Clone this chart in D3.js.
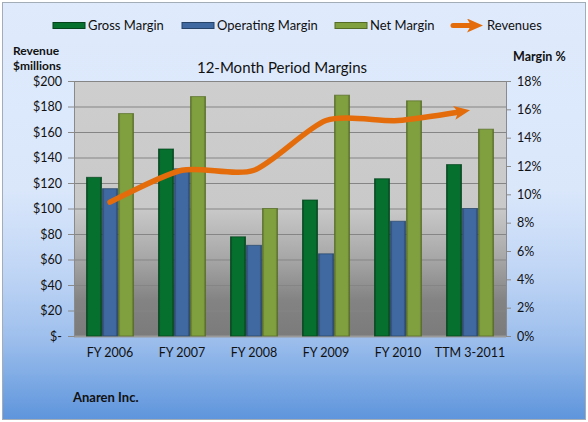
<!DOCTYPE html>
<html>
<head>
<meta charset="utf-8">
<script src="https://cdn.jsdelivr.net/npm/d3@7"></script>
<style>
  body { margin: 0; background: #fff; }
  svg { display: block; font-family: Lato, "Open Sans", sans-serif; }
</style>
</head>
<body>
<svg id="chart" width="588" height="422"></svg>
<script>
// data
var categories = ["FY 2006", "FY 2007", "FY 2008", "FY 2009", "FY 2010", "TTM 3-2011"];
var grossMargin = [11.2, 13.2, 7.0, 9.6, 11.1, 12.1];
var operatingMargin = [10.4, 11.8, 6.4, 5.8, 8.1, 9.0];
var netMargin = [15.7, 16.9, 9.0, 17.0, 16.6, 14.6];
var revenues = [105, 130, 130, 169, 169, 177];
var revenueTicks = [0, 20, 40, 60, 80, 100, 120, 140, 160, 180, 200];
var marginTicks = [0, 2, 4, 6, 8, 10, 12, 14, 16, 18];
var seriesNames = ["Gross Margin", "Operating Margin", "Net Margin"];
var seriesColors = ["#06702f", "#3f69a0", "#80a03f"];
var seriesEdges = ["#03421b", "#274468", "#556c27"];

var svg = d3.select("#chart");
var W = 588, H = 422;
var plot = {left: 74, right: 506, top: 81, bottom: 336};

var defs = svg.append("defs");

// outer background gradient
var bg = defs.append("linearGradient").attr("id", "bgGrad")
    .attr("x1", 0).attr("y1", 0).attr("x2", 0).attr("y2", 1);
[[0, "#dfeafc"], [0.45, "#dae7fb"], [0.65, "#bfd5f5"], [0.8, "#9fc0ed"], [1, "#5e95dc"]]
  .forEach(function(s) { bg.append("stop").attr("offset", s[0]).attr("stop-color", s[1]); });

// plot area gradient
var pg = defs.append("linearGradient").attr("id", "plotGrad")
    .attr("x1", 0).attr("y1", 0).attr("x2", 0).attr("y2", 1);
[[0, "#cecece"], [0.5, "#c9c9c9"], [0.7, "#a6a6a6"], [0.86, "#838383"], [1, "#7b7b7b"]]
  .forEach(function(s) { pg.append("stop").attr("offset", s[0]).attr("stop-color", s[1]); });

// bar bevel gradients
seriesColors.forEach(function(c, i) {
  var g = defs.append("linearGradient").attr("id", "bar" + i)
      .attr("x1", 0).attr("y1", 0).attr("x2", 1).attr("y2", 0);
  [[0, seriesEdges[i]], [0.14, c], [0.86, c], [1, seriesEdges[i]]]
    .forEach(function(s) { g.append("stop").attr("offset", s[0]).attr("stop-color", s[1]); });
});

defs.append("marker").attr("id", "arrow")
    .attr("viewBox", "0 0 16 14")
    .attr("refX", 16).attr("refY", 7)
    .attr("markerUnits", "userSpaceOnUse")
    .attr("markerWidth", 16).attr("markerHeight", 14)
    .attr("orient", "auto")
  .append("path")
    .attr("d", "M0,0 L16,7 L0,14 L4,7 Z")
    .attr("fill", "#e46c0a");

svg.append("rect").attr("x", 2.5).attr("y", 2.5).attr("width", W - 5).attr("height", H - 5)
    .attr("fill", "url(#bgGrad)").attr("stroke", "#a3adb8");

svg.append("rect")
    .attr("x", plot.left).attr("y", plot.top)
    .attr("width", plot.right - plot.left).attr("height", plot.bottom - plot.top)
    .attr("fill", "url(#plotGrad)");

var x0 = d3.scaleBand().domain(categories).range([plot.left, plot.right]).padding(0);
var x1 = d3.scaleBand().domain(seriesNames).range([0, x0.bandwidth()])
    .paddingInner(0).paddingOuter(0.75);
var yRev = d3.scaleLinear().domain([0, 200]).range([plot.bottom, plot.top]);
var yPct = d3.scaleLinear().domain([0, 18]).range([plot.bottom, plot.top]);

// gridlines
svg.append("g").selectAll("line").data(revenueTicks).join("line")
    .attr("x1", plot.left).attr("x2", plot.right)
    .attr("y1", function(d) { return yRev(d) + 0.5; }).attr("y2", function(d) { return yRev(d) + 0.5; })
    .attr("stroke", function(d) { return d === 0 ? "#9a9a9a" : "#858585"; })
    .attr("stroke-width", function(d) { return d === 0 ? 2 : 1; });

// left axis
var leftAxis = svg.append("g").attr("transform", "translate(" + plot.left + ",0)")
    .call(d3.axisLeft(yRev).tickValues(revenueTicks).tickSize(6).tickPadding(6)
      .tickFormat(function(d) { return d === 0 ? "$-" : "$" + d; }));
leftAxis.select(".domain").attr("stroke", "#8a8a8a");
leftAxis.selectAll(".tick line").attr("stroke", "#8a8a8a");
leftAxis.selectAll("text").attr("font-size", 12.5).attr("fill", "#111")
    .attr("font-family", "Lato, sans-serif");

// right axis
var rightAxis = svg.append("g").attr("transform", "translate(" + plot.right + ",0)")
    .call(d3.axisRight(yPct).tickValues(marginTicks).tickSize(5).tickPadding(6)
      .tickFormat(function(d) { return d + "%"; }));
rightAxis.select(".domain").attr("stroke", "#8a8a8a");
rightAxis.selectAll(".tick line").attr("stroke", "#8a8a8a");
rightAxis.selectAll("text").attr("font-size", 12.5).attr("fill", "#111")
    .attr("font-family", "Lato, sans-serif");

// bottom category labels
var bottomAxis = svg.append("g").attr("transform", "translate(0," + plot.bottom + ")")
    .call(d3.axisBottom(x0).tickSize(0).tickPadding(12));
bottomAxis.select(".domain").remove();
bottomAxis.selectAll("text").attr("font-size", 12.5).attr("fill", "#111")
    .attr("font-family", "Lato, sans-serif");

// bars
var series = [grossMargin, operatingMargin, netMargin];
var groups = svg.append("g").selectAll("g").data(categories).join("g")
    .attr("transform", function(d) { return "translate(" + x0(d) + ",0)"; });
groups.selectAll("rect")
    .data(function(d, i) { return series.map(function(s, j) { return {name: seriesNames[j], idx: j, value: s[i]}; }); })
    .join("rect")
    .attr("x", function(d) { return x1(d.name) + 0.5; })
    .attr("y", function(d) { return yPct(d.value); })
    .attr("width", x1.bandwidth() - 1)
    .attr("height", function(d) { return plot.bottom - yPct(d.value); })
    .attr("fill", function(d) { return "url(#bar" + d.idx + ")"; })
    .attr("stroke", function(d) { return seriesEdges[d.idx]; })
    .attr("stroke-opacity", 0.7)
    .attr("stroke-width", 1);

// revenue line (smoothed like Excel, a little less overshoot)
var line = d3.line()
    .x(function(d, i) { return x0(categories[i]) + x0.bandwidth() / 2; })
    .y(function(d) { return yRev(d); })
    .curve(d3.curveCardinal.tension(0.25));
var revPath = svg.append("path").datum(revenues)
    .attr("d", line)
    .attr("fill", "none")
    .attr("stroke", "#e46c0a")
    .attr("stroke-width", 5.5)
    .attr("stroke-linecap", "round");
var L = revPath.node().getTotalLength();
revPath.attr("stroke-dasharray", (L - 9) + " " + L);
svg.append("path").datum(revenues)
    .attr("d", line)
    .attr("fill", "none")
    .attr("stroke", "none")
    .attr("marker-end", "url(#arrow)");

// legend
var legendY = 25.5;
var legendItems = [
  {label: "Gross Margin", x: 53},
  {label: "Operating Margin", x: 182},
  {label: "Net Margin", x: 335}
];
legendItems.forEach(function(item, i) {
  svg.append("rect").attr("x", item.x).attr("y", legendY - 3).attr("width", 32).attr("height", 6)
      .attr("fill", seriesColors[i]).attr("stroke", seriesEdges[i]).attr("stroke-width", 1);
  svg.append("text").attr("x", item.x + 35).attr("y", legendY + 4.5)
      .attr("font-size", 13).attr("fill", "#111").text(item.label);
});
svg.append("line").attr("x1", 453).attr("x2", 472).attr("y1", legendY).attr("y2", legendY)
    .attr("stroke", "#e46c0a").attr("stroke-width", 5).attr("stroke-linecap", "round");
svg.append("line").attr("x1", 451).attr("x2", 483).attr("y1", legendY).attr("y2", legendY)
    .attr("stroke", "none").attr("marker-end", "url(#arrow)");
svg.append("text").attr("x", 487).attr("y", legendY + 4.5)
    .attr("font-size", 13).attr("fill", "#111").text("Revenues");

// titles
svg.append("text").attr("x", 282).attr("y", 73).attr("text-anchor", "middle")
    .attr("font-size", 15).attr("fill", "#111").text("12-Month Period Margins");
svg.append("text").attr("x", 13).attr("y", 55).attr("font-size", 12)
    .attr("font-weight", "bold").attr("fill", "#111").text("Revenue");
svg.append("text").attr("x", 13).attr("y", 70).attr("font-size", 12)
    .attr("font-weight", "bold").attr("fill", "#111").text("$millions");
svg.append("text").attr("x", 513).attr("y", 61).attr("font-size", 12.5)
    .attr("font-weight", "bold").attr("fill", "#111").text("Margin %");
svg.append("text").attr("x", 73).attr("y", 402).attr("font-size", 13)
    .attr("font-weight", "bold").attr("fill", "#111").text("Anaren Inc.");
</script>
</body>
</html>
